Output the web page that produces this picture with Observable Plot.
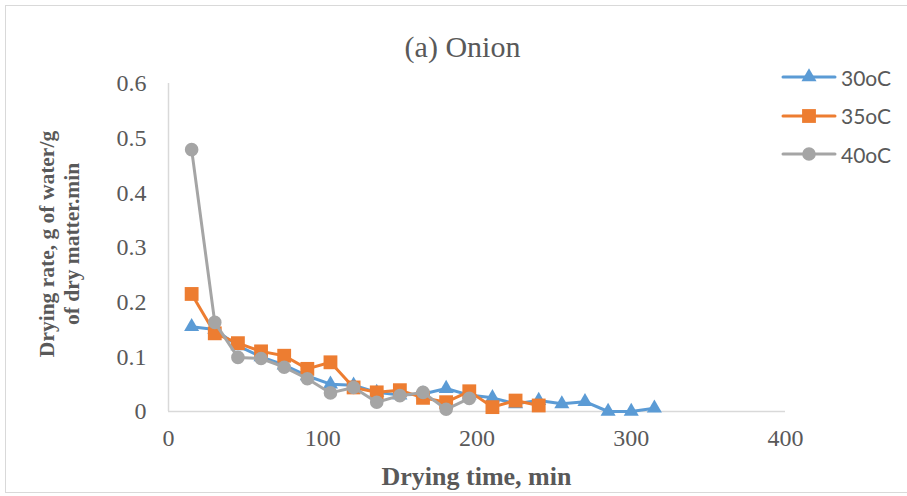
<!DOCTYPE html>
<html>
<head>
<meta charset="utf-8">
<script src="https://cdn.jsdelivr.net/npm/d3@7"></script>
<script src="https://cdn.jsdelivr.net/npm/@observablehq/plot@0.6"></script>
<style>
  html, body { margin: 0; padding: 0; background: #fff; }
  #wrap { position: relative; width: 907px; height: 496px; overflow: hidden; }
  #border { position: absolute; left: 5px; top: 5px; width: 910px; height: 488px; border: 1.5px solid #d9d9d9; box-sizing: border-box; }
  .serif { font-family: "Liberation Serif", "Times New Roman", serif; }
  #title { position: absolute; left: 0; top: 30px; width: 925px; text-align: center; font-size: 30px; color: #595959; }
  #ylab { position: absolute; left: 60px; top: 244px; transform: translate(-50%, -50%) rotate(-90deg); font-weight: bold; font-size: 21.5px; color: #595959; text-align: center; line-height: 25px; white-space: nowrap; }
  #xlab { position: absolute; left: 0; top: 462px; width: 953px; text-align: center; font-weight: bold; font-size: 26px; color: #595959; }
  #legend { position: absolute; left: 780px; top: 58px; font-family: Lato, sans-serif; font-size: 21px; color: #595959; }
  .item { display: flex; align-items: center; height: 38.5px; }
  .item svg { margin-right: 3px; }
</style>
</head>
<body>
<div id="wrap">
  <div id="border"></div>
  <div id="chart"></div>
  <div id="title" class="serif">(a) Onion</div>
  <div id="ylab" class="serif">Drying rate, g of water/g<br>of dry matter.min</div>
  <div id="xlab" class="serif">Drying time, min</div>
  <div id="legend"></div>
</div>
<script>
const seriesNames = ["30oC", "35oC", "40oC"];
const seriesColors = ["#5B9BD5", "#ED7D31", "#A5A5A5"];
const seriesSymbols = ["triangle", "square", "circle"];
const seriesRadius = [5.6, 7.8, 6.8];

const time30 = [15,30,45,60,75,90,105,120,135,150,165,180,195,210,225,240,255,270,285,300,315];
const rate30 = [0.155,0.150,0.120,0.100,0.085,0.065,0.050,0.048,0.035,0.030,0.032,0.042,0.030,0.025,0.014,0.020,0.014,0.018,0.000,0.000,0.006];

const time35 = [15,30,45,60,75,90,105,120,135,150,165,180,195,210,225,240];
const rate35 = [0.215,0.143,0.125,0.110,0.102,0.078,0.090,0.044,0.035,0.039,0.025,0.017,0.037,0.008,0.020,0.011];

const time40 = [15,30,45,60,75,90,105,120,135,150,165,180,195];
const rate40 = [0.479,0.163,0.099,0.097,0.081,0.060,0.034,0.044,0.017,0.029,0.035,0.004,0.024];

const xTicks = [0, 100, 200, 300, 400];
const yTicks = [0, 0.1, 0.2, 0.3, 0.4, 0.5, 0.6];

const times = [time30, time35, time40];
const rates = [rate30, rate35, rate40];

const marks = [
  Plot.ruleX([0], {y1: 0, y2: 0.6, stroke: "#d9d9d9", strokeWidth: 1.5}),
  Plot.ruleY([0], {x1: 0, x2: 400, stroke: "#d9d9d9", strokeWidth: 1.5}),
  Plot.axisX({ticks: xTicks, tickSize: 0, tickPadding: 17, fontSize: 24, label: null, tickFormat: d => String(d)}),
  Plot.axisY({ticks: yTicks, tickSize: 0, tickPadding: 22, fontSize: 24, label: null, tickFormat: d => String(d)})
];
seriesNames.forEach((name, i) => {
  const data = times[i].map((t, j) => ({t, r: rates[i][j]}));
  marks.push(Plot.line(data, {x: "t", y: "r", stroke: seriesColors[i], strokeWidth: 3, strokeLinejoin: "round", strokeLinecap: "round"}));
  marks.push(Plot.dot(data, {x: "t", y: "r", symbol: () => seriesSymbols[i], fill: seriesColors[i], stroke: "none", r: seriesRadius[i]}));
});

const chart = Plot.plot({
  width: 907,
  height: 496,
  marginLeft: 168,
  marginRight: 122,
  marginTop: 83,
  marginBottom: 85,
  x: {domain: [0, 400], label: null},
  y: {domain: [0, 0.6], label: null},
  symbol: {type: "identity"},
  style: {fontFamily: "'Liberation Serif', 'Times New Roman', serif", color: "#595959", background: "transparent", overflow: "visible"},
  marks
});
chart.style.position = "absolute";
chart.style.left = "0px";
chart.style.top = "0px";
document.getElementById("chart").appendChild(chart);

// legend
const legend = document.getElementById("legend");
seriesNames.forEach((name, i) => {
  const item = document.createElement("div");
  item.className = "item";
  const svg = d3.create("svg").attr("width", 58).attr("height", 20);
  svg.append("line").attr("x1", 3).attr("x2", 55).attr("y1", 10).attr("y2", 10)
    .attr("stroke", seriesColors[i]).attr("stroke-width", 3).attr("stroke-linecap", "round");
  const sym = {triangle: d3.symbolTriangle, square: d3.symbolSquare, circle: d3.symbolCircle}[seriesSymbols[i]];
  const r = seriesRadius[i];
  svg.append("path").attr("d", d3.symbol(sym, Math.PI * r * r)()).attr("transform", "translate(29,10)")
    .attr("fill", seriesColors[i]);
  item.appendChild(svg.node());
  const span = document.createElement("span");
  span.textContent = name;
  item.appendChild(span);
  legend.appendChild(item);
});
</script>
</body>
</html>
